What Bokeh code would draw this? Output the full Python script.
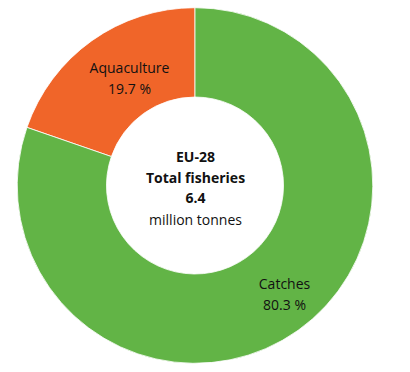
import math
from bokeh.plotting import figure
from bokeh.models import Range1d, ColumnDataSource
from bokeh.core.properties import value
from bokeh.embed import file_html
from bokeh.resources import INLINE

categories = ["Aquaculture", "Catches"]
shares = [19.7, 80.3]
colors = ["#F06529", "#62B446"]
center_lines = ["EU-28", "Total fisheries", "6.4", "million tonnes"]
center_bold = [True, True, True, False]

W, H = 410, 372
p = figure(width=W, height=H, output_backend="svg", toolbar_location=None,
           x_range=Range1d(0, W), y_range=Range1d(0, H), min_border=0)
p.axis.visible = False
p.grid.visible = False
p.outline_line_color = None
p.background_fill_color = "white"
p.border_fill_color = "white"

def px(x, y):
    return x, H - y

cx, cy = px(194.5, 185)
r_out, r_in = 177.8, 88.5

total = sum(shares)
starts, ends = [], []
a = 90.0
for s in shares:
    starts.append(math.radians(a))
    a += s / total * 360.0
    ends.append(math.radians(a))

src = ColumnDataSource(dict(start=starts, end=ends, color=colors, cat=categories))
p.annular_wedge(x=cx, y=cy, inner_radius=r_in, outer_radius=r_out,
                start_angle="start", end_angle="end", direction="anticlock",
                fill_color="color", line_color="white", line_width=0.8, source=src)

font = "Open Sans"
fs = "14px"
label_pos = {"Aquaculture": (129, 67), "Catches": (284, 283)}
for cat, sh in zip(categories, shares):
    x0, y0 = px(*label_pos[cat])
    p.text(x=[x0, x0], y=[y0, y0 - 20.5], text=[cat, f"{sh} %"],
           text_font=value(font), text_font_size=fs, text_color="#111111",
           text_align="center", text_baseline="middle")

ys = [155.7, 176.7, 197.7, 219]
for line, bold, yy in zip(center_lines, center_bold, ys):
    x0, y0 = px(195, yy)
    p.text(x=[x0], y=[y0], text=[line], text_font=value(font), text_font_size=fs,
           text_font_style="bold" if bold else "normal", text_color="#111111",
           text_align="center", text_baseline="middle")

open("out.html", "w").write(file_html(p, INLINE))
